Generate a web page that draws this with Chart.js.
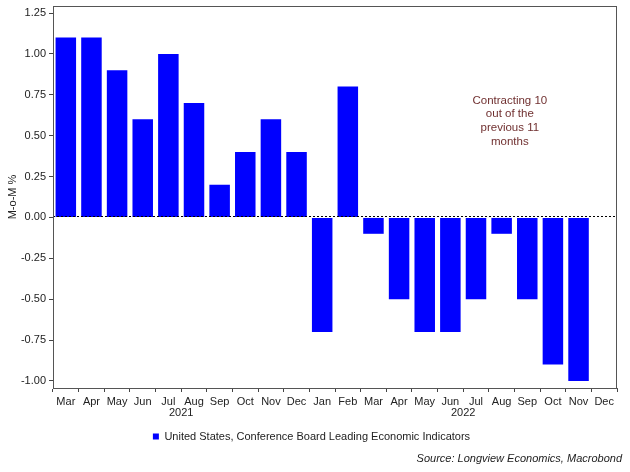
<!DOCTYPE html>
<html>
<head>
<meta charset="utf-8">
<script src="https://cdn.jsdelivr.net/npm/chart.js@4.4.1/dist/chart.umd.min.js"></script>
<style>
html,body{margin:0;padding:0;background:#fff;}
#wrap{width:630px;height:472px;position:relative;}
</style>
</head>
<body>
<div id="wrap"><canvas id="c" width="630" height="472"></canvas></div>
<script>
const months = ["Mar","Apr","May","Jun","Jul","Aug","Sep","Oct","Nov","Dec","Jan","Feb","Mar","Apr","May","Jun","Jul","Aug","Sep","Oct","Nov","Dec"];
const lei = [1.1,1.1,0.9,0.6,1.0,0.7,0.2,0.4,0.6,0.4,-0.7,0.8,-0.1,-0.5,-0.7,-0.7,-0.5,-0.1,-0.5,-0.9,-1.0,null];
const years = ["2021","2022"];
const yearStart = [0,10];
const yearEnd = [9,21];
const yTicks = [-1.0,-0.75,-0.5,-0.25,0,0.25,0.5,0.75,1.0,1.25];
const seriesName = "United States, Conference Board Leading Economic Indicators";
const noteLines = ["Contracting 10","out of the","previous 11","months"];
const sourceText = "Source: Longview Economics, Macrobond";

const FONT = "'Liberation Sans', Arial, sans-serif";
Chart.defaults.font.family = FONT;
Chart.defaults.color = "#222";

const extras = {
  id: "extras",
  afterDatasetsDraw(chart) {
    const {ctx, chartArea: a, scales: {x, y}} = chart;
    const y0 = y.getPixelForValue(0);
    ctx.save();
    ctx.strokeStyle = "#000";
    ctx.lineWidth = 1;
    ctx.setLineDash([2, 2]);
    ctx.beginPath();
    ctx.moveTo(a.left, Math.round(y0) - 0.5);
    ctx.lineTo(a.right, Math.round(y0) - 0.5);
    ctx.stroke();
    ctx.restore();
  },
  afterDraw(chart) {
    const {ctx, chartArea: a, scales: {x, y}} = chart;
    ctx.save();
    // frame
    ctx.strokeStyle = "#555";
    ctx.lineWidth = 1;
    ctx.strokeRect(Math.round(a.left) + 0.5, Math.round(a.top) + 0.5, Math.round(a.right - a.left) - 1, Math.round(a.bottom - a.top));
    // year labels
    ctx.fillStyle = "#222";
    ctx.font = "11px " + FONT;
    ctx.textAlign = "center";
    ctx.textBaseline = "middle";
    for (let i = 0; i < years.length; i++) {
      const cx = (x.getPixelForValue(yearStart[i]) + x.getPixelForValue(yearEnd[i])) / 2;
      ctx.fillText(years[i], cx, a.bottom + 25);
    }
    // annotation
    ctx.fillStyle = "#703030";
    ctx.font = "11.5px " + FONT;
    const nx = x.getPixelForValue(17.32);
    const ny = y.getPixelForValue(0.715);
    noteLines.forEach((t, k) => ctx.fillText(t, nx, ny + k * 13.7));
    // source
    ctx.fillStyle = "#222";
    ctx.font = "italic 11px " + FONT;
    ctx.textAlign = "right";
    ctx.fillText(sourceText, chart.width - 8, chart.height - 13);
    ctx.restore();
  }
};

new Chart(document.getElementById("c"), {
  type: "bar",
  data: {
    labels: months,
    datasets: [{
      label: seriesName,
      data: lei,
      backgroundColor: "#0000ff",
      borderWidth: 0,
      barPercentage: 0.8,
      categoryPercentage: 1.0
    }]
  },
  options: {
    responsive: false,
    animation: false,
    devicePixelRatio: 1,
    layout: {padding: {top: 0, right: 13, left: 6, bottom: 20}},
    plugins: {
      legend: {
        position: "bottom",
        labels: {
          boxWidth: 6, boxHeight: 6, padding: 10,
          font: {size: 11, family: FONT}, color: "#222"
        }
      },
      tooltip: {enabled: false}
    },
    scales: {
      x: {
        offset: true,
        grid: {offset: true, drawOnChartArea: false, drawTicks: true, tickLength: 4, color: "#444"},
        border: {display: true, color: "#555"},
        ticks: {autoSkip: false, maxRotation: 0, minRotation: 0, padding: 3, font: {size: 11, family: FONT}, color: "#222"},
        afterFit(s) { s.height = 33; }
      },
      y: {
        min: -1.043,
        max: 1.293,
        grid: {drawOnChartArea: false, drawTicks: true, tickLength: 4, color: "#444"},
        border: {display: true, color: "#555"},
        ticks: {padding: 3, font: {size: 11, family: FONT, lineHeight: 1}, color: "#222",
          callback: v => Number(v).toFixed(2)},
        afterBuildTicks(s) { s.ticks = yTicks.map(v => ({value: v})); },
        title: {display: true, text: "M-o-M %", font: {size: 11, family: FONT}, color: "#222", padding: {top: 0, bottom: 4}},
        afterFit(s) { s.width = 47; s.paddingTop = 6; }
      }
    }
  },
  plugins: [extras]
});
</script>
</body>
</html>
